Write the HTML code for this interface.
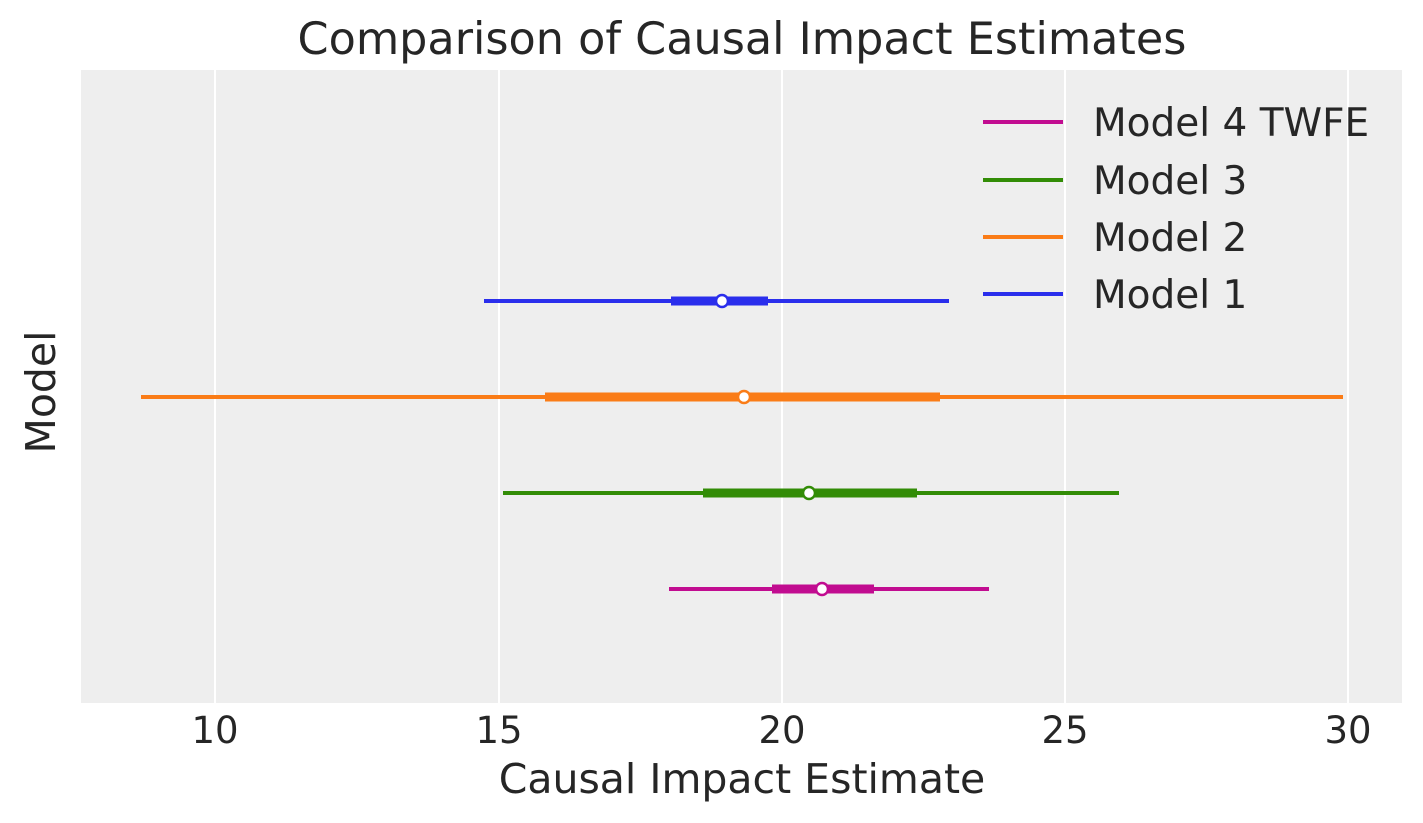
<!DOCTYPE html>
<html><head><meta charset="utf-8"><style>
html,body{margin:0;padding:0;background:#fff;}
svg{display:block;font-family:"DejaVu Sans","Liberation Sans",sans-serif;}
</style></head><body>
<svg width="1423" height="823" viewBox="0 0 1423 823" xmlns="http://www.w3.org/2000/svg">
<rect x="81" y="70" width="1321" height="633" fill="#eeeeee"/>
<g stroke="#ffffff" stroke-width="2">
<line x1="215" y1="70" x2="215" y2="703"/>
<line x1="499" y1="70" x2="499" y2="703"/>
<line x1="782" y1="70" x2="782" y2="703"/>
<line x1="1065" y1="70" x2="1065" y2="703"/>
<line x1="1348" y1="70" x2="1348" y2="703"/>
</g>
<g stroke-linecap="butt">
<line x1="484" y1="301" x2="949" y2="301" stroke="#2a2eec" stroke-width="4"/>
<line x1="671" y1="301" x2="768" y2="301" stroke="#2a2eec" stroke-width="9"/>
<circle cx="722" cy="301" r="6" fill="#fff" stroke="#2a2eec" stroke-width="2.5"/>
<line x1="141" y1="397" x2="1343" y2="397" stroke="#fa7c17" stroke-width="4"/>
<line x1="545" y1="397" x2="940" y2="397" stroke="#fa7c17" stroke-width="9"/>
<circle cx="744" cy="397" r="6" fill="#fff" stroke="#fa7c17" stroke-width="2.5"/>
<line x1="503" y1="493" x2="1119" y2="493" stroke="#328c06" stroke-width="4"/>
<line x1="703" y1="493" x2="917" y2="493" stroke="#328c06" stroke-width="9"/>
<circle cx="809" cy="493" r="6" fill="#fff" stroke="#328c06" stroke-width="2.5"/>
<line x1="669" y1="589" x2="989" y2="589" stroke="#c10c90" stroke-width="4"/>
<line x1="772" y1="589" x2="874" y2="589" stroke="#c10c90" stroke-width="9"/>
<circle cx="822" cy="589" r="6" fill="#fff" stroke="#c10c90" stroke-width="2.5"/>
</g>
<g stroke-width="4">
<line x1="983" y1="122" x2="1063" y2="122" stroke="#c10c90"/>
<line x1="983" y1="180" x2="1063" y2="180" stroke="#328c06"/>
<line x1="983" y1="237" x2="1063" y2="237" stroke="#fa7c17"/>
<line x1="983" y1="294" x2="1063" y2="294" stroke="#2a2eec"/>
</g>
<g fill="#262626" font-size="39">
<text x="1093" y="136">Model 4 TWFE</text>
<text x="1093" y="194">Model 3</text>
<text x="1093" y="251">Model 2</text>
<text x="1093" y="308">Model 1</text>
</g>
<g fill="#262626" font-size="37" text-anchor="middle">
<text x="215" y="743">10</text>
<text x="499" y="743">15</text>
<text x="782" y="743">20</text>
<text x="1065" y="743">25</text>
<text x="1348" y="743">30</text>
</g>
<text x="742" y="793" fill="#262626" font-size="41" text-anchor="middle">Causal Impact Estimate</text>
<text x="742" y="54" fill="#262626" font-size="44.5" text-anchor="middle">Comparison of Causal Impact Estimates</text>
<text transform="translate(55,392) rotate(-90)" fill="#262626" font-size="41" text-anchor="middle">Model</text>
</svg>
</body></html>
